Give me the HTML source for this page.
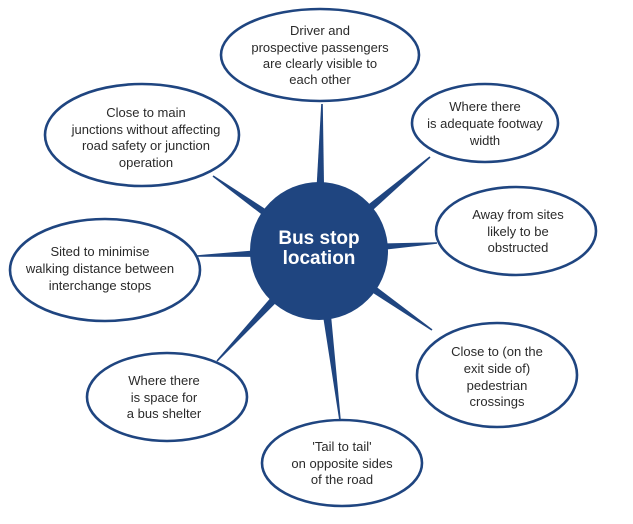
<!DOCTYPE html>
<html><head><meta charset="utf-8"><style>
html,body{margin:0;padding:0;background:#fff}
svg{display:block}
text{font-family:"Liberation Sans",sans-serif;font-size:13px;fill:#2a2a2a;text-anchor:middle}
</style></head><body>
<svg width="633" height="524" viewBox="0 0 633 524" xmlns="http://www.w3.org/2000/svg">
<g id="spokes" fill="#1f4580"></g>
<script>
var c=[319,251],ends=[[322,104],[213,176],[430,157],[437,243],[197,256],[217,361],[340,420],[432,330]];
var g=document.getElementById('spokes');
ends.forEach(function(e){var dx=e[0]-c[0],dy=e[1]-c[1],L=Math.hypot(dx,dy),nx=-dy/L,ny=dx/L,h0=6,h1=0.8;
var p=[[c[0]+nx*h0,c[1]+ny*h0],[e[0]+nx*h1,e[1]+ny*h1],[e[0]-nx*h1,e[1]-ny*h1],[c[0]-nx*h0,c[1]-ny*h0]];
var el=document.createElementNS('http://www.w3.org/2000/svg','polygon');el.setAttribute('points',p.map(function(q){return q.join(',')}).join(' '));g.appendChild(el);});
</script>
<g fill="#fff" stroke="#1f4580" stroke-width="2.6">
<ellipse cx="320" cy="55" rx="99" ry="46"/>
<ellipse cx="142" cy="135" rx="97" ry="51"/>
<ellipse cx="485" cy="123" rx="73" ry="39"/>
<ellipse cx="516" cy="231" rx="80" ry="44"/>
<ellipse cx="105" cy="270" rx="95" ry="51"/>
<ellipse cx="497" cy="375" rx="80" ry="52"/>
<ellipse cx="167" cy="397" rx="80" ry="44"/>
<ellipse cx="342" cy="463" rx="80" ry="43"/>
</g>
<circle cx="319" cy="251" r="69" fill="#1f4580"/>
<text x="319" y="244" style="font-size:19px;font-weight:bold;fill:#fff">Bus stop</text>
<text x="319" y="264" style="font-size:19px;font-weight:bold;fill:#fff">location</text>

<text x="320" y="35">Driver and</text>
<text x="320" y="52">prospective passengers</text>
<text x="320" y="68">are clearly visible to</text>
<text x="320" y="84">each other</text>

<text x="146" y="117">Close to main</text>
<text x="146" y="134">junctions without affecting</text>
<text x="146" y="150">road safety or junction</text>
<text x="146" y="167">operation</text>

<text x="485" y="111">Where there</text>
<text x="485" y="128">is adequate footway</text>
<text x="485" y="145">width</text>

<text x="518" y="219">Away from sites</text>
<text x="518" y="236">likely to be</text>
<text x="518" y="252">obstructed</text>

<text x="100" y="256">Sited to minimise</text>
<text x="100" y="273">walking distance between</text>
<text x="100" y="290">interchange stops</text>

<text x="497" y="356">Close to (on the</text>
<text x="497" y="373">exit side of)</text>
<text x="497" y="390">pedestrian</text>
<text x="497" y="406">crossings</text>

<text x="164" y="385">Where there</text>
<text x="164" y="402">is space for</text>
<text x="164" y="418">a bus shelter</text>

<text x="342" y="451">'Tail to tail'</text>
<text x="342" y="468">on opposite sides</text>
<text x="342" y="484">of the road</text>
</svg>
</body></html>
